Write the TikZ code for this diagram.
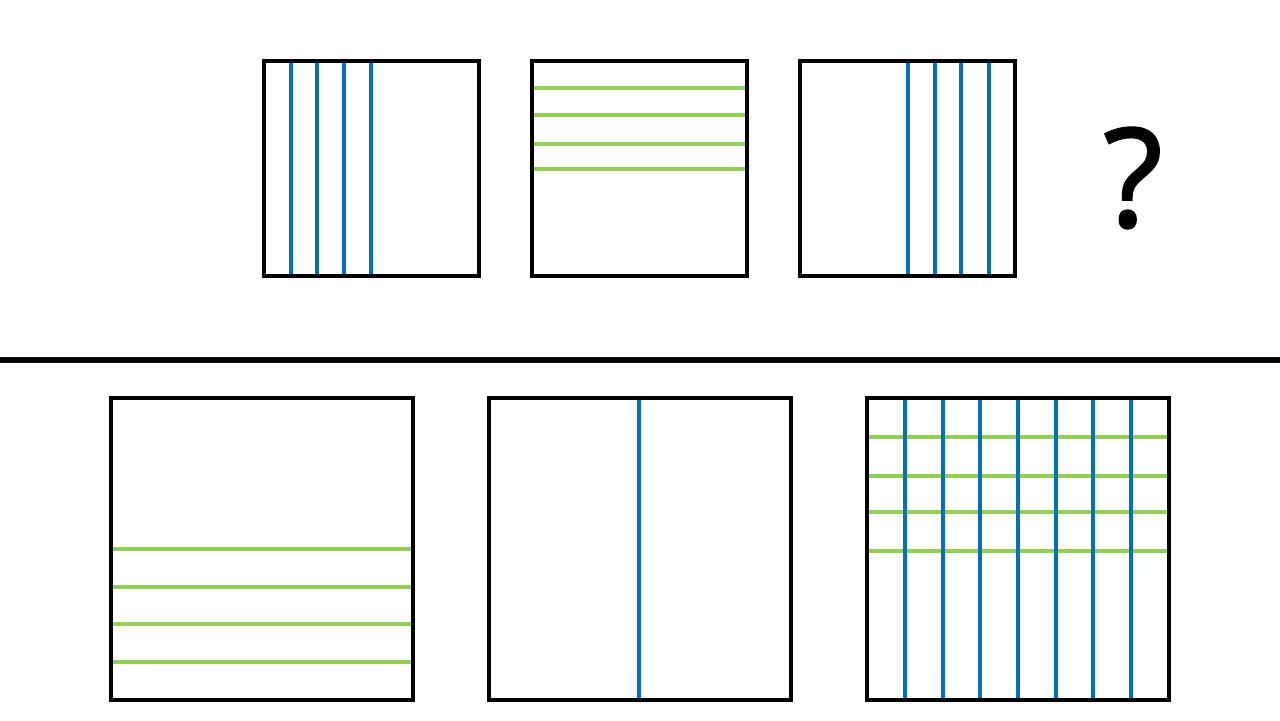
\documentclass[tikz,border=0pt]{standalone}
\usepackage{fontspec}
\newfontfamily\qfont[FakeBold=1.6]{Open Sans}
\definecolor{lineblue}{HTML}{0070C0}
\definecolor{linegreen}{HTML}{92D050}
\begin{document}
\begin{tikzpicture}[x=0.02cm, y=-0.02cm]
        \useasboundingbox (0, 0) rectangle (1280, 720);
        % top row
        \foreach \x in {291, 317, 344, 371}
            \draw [lineblue, line width = 2.2pt] (\x, 61) -- (\x, 276);
        \foreach \y in {88, 115, 144, 169}
            \draw [linegreen, line width = 2.2pt] (532, \y) -- (747, \y);
        \foreach \x in {908, 935, 961, 989}
            \draw [lineblue, line width = 2.2pt] (\x, 61) -- (\x, 276);
        \foreach \a in {264, 532, 800}
            \draw [line width = 2.3pt] (\a, 61) rectangle ({\a + 215}, 276);
        \node (ques) at (1133, 178) {\qfont\fontsize{78}{78}\selectfont ?};
        % divider
        \draw [line width = 3.6pt] (0, 360) -- (1280, 360);
        % bottom row
        \foreach \y in {549, 587, 624, 662}
            \draw [linegreen, line width = 2.2pt] (111, \y) -- (413, \y);
        \draw [lineblue, line width = 2.2pt] (639, 398) -- (639, 700);
        \foreach \y in {437, 476, 512, 551}
            \draw [linegreen, line width = 2.2pt] (867, \y) -- (1169, \y);
        \foreach \x in {905, 943, 980, 1018, 1056, 1093, 1131}
            \draw [lineblue, line width = 2.2pt] (\x, 398) -- (\x, 700);
        \foreach \a in {111, 489, 867}
            \draw [line width = 2.3pt] (\a, 398) rectangle ({\a + 302}, 700);
    \end{tikzpicture}
\end{document}
